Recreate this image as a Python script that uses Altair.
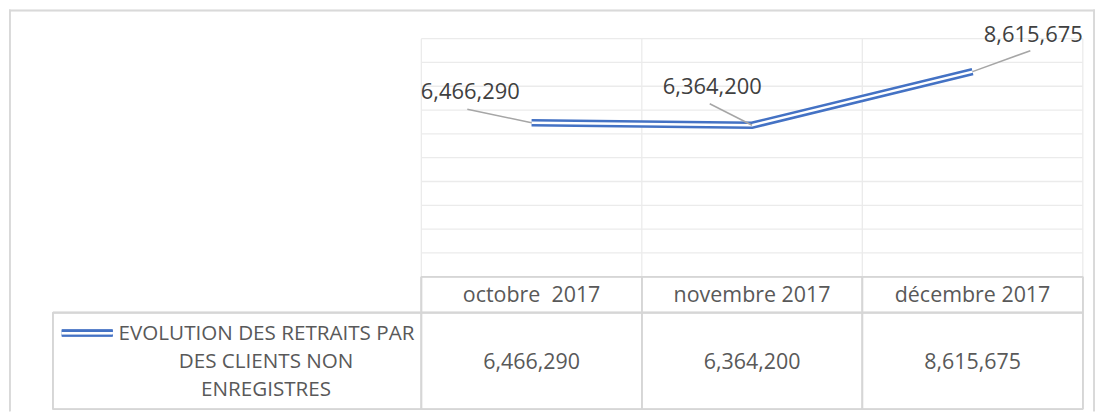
import altair as alt
import pandas as pd

# ---------------- data ----------------
months = ["octobre\u00a0 2017", "novembre 2017", "décembre 2017"]
values = [6466290, 6364200, 8615675]
legend_lines = ["EVOLUTION DES RETRAITS PAR", "DES CLIENTS NON", "ENREGISTRES"]
grid_values = [1000000, 2000000, 3000000, 4000000, 5000000,
               6000000, 7000000, 8000000, 9000000, 10000000]
col_bounds = [-0.5, 0.5, 1.5, 2.5]

# ---------------- layout / style ----------------
W, H = 1090, 403
X0, XSTEP = 524.5, 221.3          # plot px of column 0 centre, px per column
Y0, YPX = 268.0, 23.9e-6          # plot px of value 0, px per unit value
XMIN, XMAX = -X0 / XSTEP, (W - X0) / XSTEP
YMAX, YMIN = Y0 / YPX, (Y0 - H) / YPX

FONT = "Open Sans"
BLUE = "#4472C4"
GRID = "#ebebeb"
TABLE = "#d6d6d6"
LABEL_COL = "#404040"
TEXT_COL = "#595959"

LABEL_OFFSETS = [(-61.5, -31), (-40, -38.5), (61, -36.5)]
LEADER_OFFSETS = [(-64.5, -13.5), (-42.5, -21.5), (58, -21)]
LEGEND_Y = [325, 353.5, 381.5]

xs = alt.Scale(domain=[XMIN, XMAX], nice=False, zero=False)
ys = alt.Scale(domain=[YMIN, YMAX], nice=False, zero=False)


def px(i):
    return X0 + XSTEP * i


df = pd.DataFrame({
    "idx": list(range(len(months))),
    "mois": months,
    "valeur": values,
    "texte": [f"{v:,}" for v in values],
})
grid_df = pd.DataFrame({"v": grid_values, "a": -0.5, "b": 2.5})
vgrid_df = pd.DataFrame({"x": col_bounds, "lo": 0, "hi": grid_values[-1]})
leg_df = pd.DataFrame({"t": legend_lines, "n": list(range(len(legend_lines)))})

X = lambda f: alt.X(f"{f}:Q", scale=xs, axis=None)
Y = lambda f: alt.Y(f"{f}:Q", scale=ys, axis=None)

layers = []

# horizontal gridlines
layers.append(alt.Chart(grid_df).mark_rule(color=GRID, strokeWidth=1.3).encode(
    x=X("a"), x2="b", y=Y("v")))
# vertical gridlines in plot area
layers.append(alt.Chart(vgrid_df).mark_rule(color=GRID, strokeWidth=1.3).encode(
    x=X("x"), y=Y("lo"), y2="hi"))

# table structure (decoration)
tb = [
    *[dict(x=px(b), x2=px(b), y=Y0, y2=401) for b in col_bounds],
    dict(x=px(-0.5), x2=px(2.5), y=Y0, y2=Y0),
    dict(x=44, x2=px(2.5), y=304, y2=304),
    dict(x=44, x2=px(2.5), y=401, y2=401),
    dict(x=44, x2=44, y=304, y2=401),
]
for r in tb:
    layers.append(alt.Chart(df).mark_rule(color=TABLE, strokeWidth=1.6).encode(
        x=alt.value(r["x"]), x2=alt.value(r["x2"]),
        y=alt.value(r["y"]), y2=alt.value(r["y2"])))

# outer border (top, left, right)
for r in [dict(x=0, x2=W, y=0.8, y2=0.8), dict(x=0.8, x2=0.8, y=0, y2=H),
          dict(x=W - 1, x2=W - 1, y=0, y2=H)]:
    layers.append(alt.Chart(df).mark_rule(color="#d9d9d9", strokeWidth=1.6).encode(
        x=alt.value(r["x"]), x2=alt.value(r["x2"]),
        y=alt.value(r["y"]), y2=alt.value(r["y2"])))

# double line
layers.append(alt.Chart(df).mark_line(color=BLUE, strokeWidth=7.5, strokeJoin="miter",
                                      strokeCap="butt").encode(
    x=X("idx"), y=Y("valeur"), order="idx:O"))
layers.append(alt.Chart(df).mark_line(color="white", strokeWidth=2.4, strokeJoin="miter",
                                      strokeCap="butt").encode(
    x=X("idx"), y=Y("valeur"), order="idx:O"))

# leader lines and data labels
for i in range(len(months)):
    ldx, ldy = LEADER_OFFSETS[i]
    layers.append(alt.Chart(df).transform_filter(f"datum.idx == {i}").mark_rule(
        color="#a6a6a6", strokeWidth=1.5, x2Offset=ldx, y2Offset=ldy).encode(
        x=X("idx"), x2="idx", y=Y("valeur"), y2="valeur"))
    tdx, tdy = LABEL_OFFSETS[i]
    layers.append(alt.Chart(df).transform_filter(f"datum.idx == {i}").mark_text(
        font=FONT, fontSize=22, color=LABEL_COL, align="center", baseline="middle",
        dx=tdx, dy=tdy).encode(
        x=X("idx"), y=Y("valeur"), text="texte:N"))

# table header and values
layers.append(alt.Chart(df).mark_text(font=FONT, fontSize=21.5, color=TEXT_COL,
                                      baseline="middle").encode(
    x=X("idx"), y=alt.value(287), text="mois:N"))
layers.append(alt.Chart(df).mark_text(font=FONT, fontSize=21.5, color=TEXT_COL,
                                      baseline="middle").encode(
    x=X("idx"), y=alt.value(355), text="texte:N"))

# legend key (double line)
layers.append(alt.Chart(df).mark_rule(color=BLUE, strokeWidth=7).encode(
    x=alt.value(53), x2=alt.value(104), y=alt.value(324.5)))
layers.append(alt.Chart(df).mark_rule(color="white", strokeWidth=2.3).encode(
    x=alt.value(53), x2=alt.value(104), y=alt.value(324.5)))

# legend text
for n in range(len(legend_lines)):
    layers.append(alt.Chart(leg_df).transform_filter(f"datum.n == {n}").mark_text(
        font=FONT, fontSize=20.7, color=TEXT_COL,
        align="left" if n == 0 else "center", baseline="middle").encode(
        x=alt.value(110 if n == 0 else 258), y=alt.value(LEGEND_Y[n]), text="t:N"))

chart = alt.layer(*layers).properties(
    width=W, height=H, padding=0, background="white"
).configure_view(stroke=None)

chart.save("out.html", embed_options={"renderer": "svg", "actions": False})
